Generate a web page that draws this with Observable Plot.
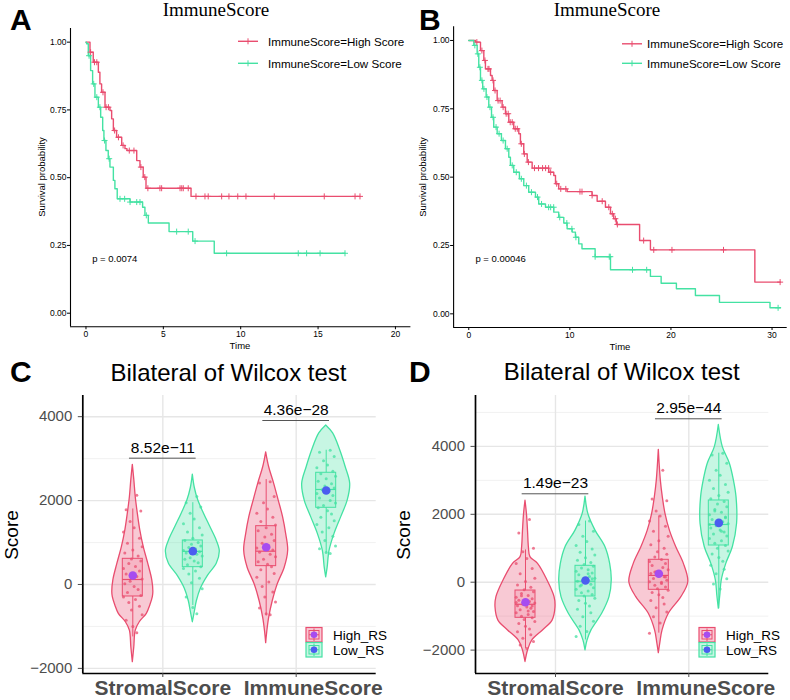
<!DOCTYPE html>
<html><head><meta charset="utf-8">
<script src="https://cdn.jsdelivr.net/npm/d3@7"></script>
<script src="https://cdn.jsdelivr.net/npm/@observablehq/plot@0.6"></script>
<style>
body{margin:0;background:#fff;}
#root{position:relative;width:790px;height:700px;overflow:hidden;background:#fff;font-family:"Liberation Sans",Arial,sans-serif;}
</style></head><body><div id="root"></div>
<script>
const RED = "#E94D6F", GREEN = "#44E2A3", PURPLE = "#A64CF0", BLUE = "#4B5DF0";
const FONT = "Liberation Sans, Arial, sans-serif";

// ---------- Kaplan-Meier data ----------
const kmGroups = ["ImmuneScore=High Score", "ImmuneScore=Low Score"];
const kmA_highTime = [0, 0.26, 0.47, 0.8, 0.9, 1.01, 1.23, 1.55, 1.66, 1.77, 1.98, 2.31, 2.52, 2.65, 3.28, 3.49, 3.7, 3.88, 6.79, 17.71];
const kmA_highSurv = [1, 0.963, 0.926, 0.889, 0.846, 0.815, 0.76, 0.748, 0.717, 0.674, 0.649, 0.619, 0.607, 0.6, 0.563, 0.539, 0.502, 0.461, 0.431, 0.431];
const kmA_lowTime = [0, 0.04, 0.15, 0.3, 0.43, 0.58, 0.8, 0.95, 1.08, 1.16, 1.29, 1.44, 1.55, 1.77, 1.87, 2.02, 2.85, 3.66, 3.81, 4.03, 5.37, 6.9, 8.29, 16.74];
const kmA_lowSurv = [1, 0.994, 0.95, 0.895, 0.846, 0.797, 0.76, 0.723, 0.674, 0.637, 0.6, 0.57, 0.539, 0.49, 0.459, 0.422, 0.41, 0.391, 0.361, 0.333, 0.301, 0.266, 0.221, 0.221];
const kmA_highCensor = [0.3, 0.55, 0.7, 1.1, 1.3, 1.45, 1.85, 2.1, 2.4, 2.8, 3.1, 3.55, 3.8, 4.0, 4.78, 4.89, 6.08, 6.19, 6.29, 6.61, 7.11, 7.69, 7.9, 8.77, 9.24, 9.81, 10.34, 12.17, 15.4, 17.39, 17.71];
const kmA_lowCensor = [0.2, 0.5, 0.7, 0.9, 1.2, 1.5, 2.2, 2.5, 2.85, 3.28, 3.49, 3.9, 5.86, 6.61, 7.05, 9.09, 13.72, 14.26, 15.13, 16.74];
const kmA_pvalue = [{t: 0.4, s: 0.2, label: "p = 0.0074"}];

const kmB_highTime = [0, 0.66, 1.16, 1.49, 1.65, 2.15, 2.31, 2.47, 2.81, 3.3, 3.63, 3.96, 4.45, 4.95, 5.11, 5.44, 5.78, 6.27, 7.91, 8.41, 8.58, 8.9, 9.73, 12.2, 12.7, 13.52, 14.02, 14.34, 14.6, 16.9, 17.97, 28.3, 30.83];
const kmB_highSurv = [1, 0.994, 0.963, 0.927, 0.896, 0.872, 0.854, 0.817, 0.78, 0.756, 0.732, 0.701, 0.677, 0.659, 0.622, 0.585, 0.555, 0.533, 0.518, 0.506, 0.476, 0.457, 0.447, 0.433, 0.412, 0.39, 0.366, 0.348, 0.327, 0.268, 0.234, 0.116, 0.116];
const kmB_lowTime = [0, 0.5, 0.83, 0.99, 1.16, 1.38, 1.72, 1.98, 2.25, 2.47, 2.81, 3.23, 3.63, 3.96, 4.12, 4.45, 5.01, 5.44, 5.93, 6.6, 6.92, 7.59, 8.41, 8.9, 9.4, 9.73, 10.23, 10.55, 10.88, 11.2, 12.5, 14.02, 17.97, 19.03, 20.54, 22.42, 24.8, 29.8, 30.83];
const kmB_lowSurv = [1, 0.982, 0.951, 0.902, 0.854, 0.823, 0.793, 0.756, 0.719, 0.683, 0.659, 0.634, 0.604, 0.573, 0.543, 0.518, 0.494, 0.469, 0.445, 0.427, 0.402, 0.39, 0.372, 0.353, 0.332, 0.311, 0.299, 0.28, 0.256, 0.238, 0.209, 0.161, 0.137, 0.112, 0.092, 0.067, 0.042, 0.022, 0.022];
const kmB_highCensor = [0.8, 1.3, 1.6, 1.9, 2.0, 2.4, 2.6, 2.9, 3.1, 3.4, 3.7, 3.9, 4.1, 4.3, 4.6, 4.8, 5.2, 5.5, 5.9, 6.5, 6.9, 7.3, 7.6, 7.9, 8.1, 8.7, 9.1, 9.6, 11.0, 11.2, 12.2, 13.2, 13.85, 14.2, 14.5, 14.7, 17.3, 18.3, 20.1, 25.2, 30.8];
const kmB_lowCensor = [0.6, 0.9, 1.1, 1.3, 1.5, 1.8, 2.1, 2.4, 2.7, 3.0, 3.4, 3.8, 4.3, 4.7, 5.2, 5.7, 6.2, 6.8, 7.2, 7.9, 8.1, 8.4, 9.0, 9.7, 10.2, 10.6, 12.5, 13.9, 14.0, 16.2, 17.6, 30.6];
const kmB_pvalue = [{t: 0.66, s: 0.2, label: "p = 0.00046"}];

// ---------- Violin data ----------
const scoreNames = ["StromalScore", "ImmuneScore"];
const riskNames = ["High_RS", "Low_RS"];
// violin profiles: [score, half-width in category units]
const violinC_StromalHigh = [[2850,0],[2500,0.011],[2080,0.022],[1700,0.037],[1290,0.056],[890,0.082],[490,0.116],[100,0.146],[-180,0.154],[-300,0.15],[-500,0.131],[-700,0.105],[-900,0.052],[-1100,0.022],[-1500,0.011],[-1850,0]];
const violinC_StromalLow = [[2620,0],[2300,0.015],[2000,0.041],[1700,0.082],[1400,0.127],[1100,0.172],[800,0.202],[500,0.18],[200,0.112],[-100,0.06],[-400,0.03],[-650,0.015],[-900,0]];
const violinC_ImmuneHigh = [[3150,0],[2800,0.022],[2400,0.06],[2000,0.094],[1600,0.127],[1200,0.15],[810,0.165],[400,0.139],[0,0.086],[-400,0.049],[-800,0.022],[-1150,0.0075],[-1400,0]];
const violinC_ImmuneLow = [[3790,0],[3600,0.052],[3200,0.105],[2800,0.146],[2400,0.18],[2000,0.161],[1600,0.112],[1200,0.062],[800,0.025],[400,0.011],[170,0]];
const violinD_StromalHigh = [[2400,0],[2000,0.011],[1500,0.019],[1000,0.026],[740,0.037],[540,0.094],[50,0.165],[-440,0.218],[-740,0.225],[-1130,0.203],[-1420,0.131],[-1720,0.05],[-2010,0.019],[-2350,0]];
const violinD_StromalLow = [[2520,0],[2000,0.022],[1520,0.075],[1030,0.15],[540,0.185],[50,0.197],[-440,0.18],[-930,0.125],[-1420,0.045],[-1720,0.015],[-2010,0]];
const violinD_ImmuneHigh = [[3900,0],[3000,0.015],[2500,0.03],[2015,0.05],[1520,0.083],[1030,0.131],[540,0.188],[0,0.221],[-440,0.169],[-930,0.075],[-1420,0.028],[-1800,0.011],[-2090,0]];
const violinD_ImmuneLow = [[4630,0],[3980,0.03],[3490,0.083],[3000,0.113],[2500,0.133],[1720,0.137],[1030,0.105],[540,0.056],[50,0.022],[-400,0.011],[-780,0]];
// box stats: [q1, median, q3, whisker low, whisker high, mean]
const boxC_StromalHigh = [-286, 119, 612, -1250, 1800, 215];
const boxC_StromalLow = [413, 790, 1049, -500, 1950, 794];
const boxC_ImmuneHigh = [437, 794, 1390, -750, 2500, 889];
const boxC_ImmuneLow = [1828, 2265, 2663, 750, 3200, 2241];
const boxD_StromalHigh = [-1049, -650, -245, -1950, 950, -589];
const boxD_StromalLow = [-421, 30, 483, -1700, 1800, 50];
const boxD_ImmuneHigh = [-224, 200, 660, -1500, 1950, 247];
const boxD_ImmuneLow = [1081, 1700, 2407, -780, 3800, 1747];
// jittered sample points
const ptsC_StromalHigh = [2130,1780,1750,1500,1350,1250,1100,980,900,820,750,680,610,560,500,430,380,320,250,190,130,80,20,-50,-120,-190,-260,-300,-360,-430,-520,-610,-720,-850,-1000,-1150];
const ptsC_StromalLow = [2100,1950,1850,1700,1560,1450,1350,1250,1180,1100,1050,1000,960,920,880,850,810,780,750,720,680,640,600,560,520,470,420,380,320,250,150,40,-100,-300,-550,-700];
const ptsC_ImmuneHigh = [2450,2420,2100,1950,1800,1700,1600,1500,1420,1350,1280,1200,1130,1050,980,920,870,820,770,720,660,600,540,480,420,350,260,170,60,-50,-180,-300,-420,-560,-700,-720];
const ptsC_ImmuneLow = [3200,3150,3050,2950,2850,2780,2700,2640,2580,2520,2460,2400,2350,2300,2260,2220,2170,2120,2060,2000,1940,1880,1830,1760,1680,1600,1520,1430,1350,1250,1150,1050,920,850,760,740];
const ptsD_StromalHigh = [1850,1450,1000,900,700,550,400,250,120,20,-80,-150,-220,-280,-330,-390,-440,-490,-530,-570,-610,-650,-690,-730,-770,-810,-860,-900,-950,-1000,-1050,-1100,-1160,-1220,-1300,-1380,-1460,-1550,-1650,-1750,-1850,-1950,-600,-700,-400,-850];
const ptsD_StromalLow = [1800,1700,1500,1350,1200,1080,980,880,800,720,650,580,520,470,420,370,320,270,220,170,120,70,30,-10,-60,-110,-160,-210,-260,-310,-360,-410,-470,-540,-620,-700,-800,-900,-1020,-1150,-1300,-1450,-1600,100,-80,250];
const ptsD_ImmuneHigh = [3300,2450,2400,2100,1950,1800,1650,1500,1350,1220,1100,1000,900,820,740,670,610,550,490,430,370,310,260,210,160,110,60,10,-40,-90,-140,-190,-240,-300,-370,-450,-540,-640,-750,-880,-1020,-1200,-1500,150,300,0];
const ptsD_ImmuneLow = [3800,3750,3500,3300,3150,3000,2880,2760,2650,2550,2460,2380,2300,2220,2140,2060,1990,1920,1850,1780,1720,1660,1600,1540,1480,1420,1360,1290,1220,1150,1080,1000,920,830,730,620,500,380,250,100,-50,-200,1700,1900,2100,1500];
const jitterOffsets = [0.03,-0.05,0.06,-0.02,0.01,-0.07,0.05,-0.04,0.07,0.00,-0.06,0.04,-0.01,0.06,-0.03,0.02,-0.07,0.05,-0.05,0.03,0.07,-0.02,-0.06,0.01,0.04,-0.04,0.06,-0.07,0.02,-0.03,0.05,-0.01,0.07,-0.05,0.00,0.03,-0.06,0.04,-0.02,0.06,-0.04,0.01,-0.07,0.05,-0.03,0.02];
// significance labels
const compC_labels = ["8.52e\u221211", "4.36e\u221228"];
const compC_y = [3011, 3909];
const compD_labels = ["1.49e\u221223", "2.95e\u221244"];
const compD_y = [2604, 4813];

// ---------- helpers ----------
const root = document.getElementById("root");
function place(el, left, top) {
  const d = document.createElement("div");
  d.style.position = "absolute"; d.style.left = left + "px"; d.style.top = top + "px";
  d.appendChild(el); root.appendChild(d);
}
function steps(times, survs, group) { return times.map((t, i) => ({t, s: survs[i], group})); }
function survAt(times, survs, t) { let s = survs[0]; for (let i = 0; i < times.length; i++) if (times[i] <= t) s = survs[i]; return s; }
function censors(ct, times, survs, group) { return ct.map(t => ({t, s: survAt(times, survs, t), group})); }

function kmPlot(o) {
  return Plot.plot({
    width: o.width, height: 352, marginLeft: o.ml, marginRight: o.mr, marginTop: o.mt, marginBottom: o.mb,
    x: {domain: o.xdom}, y: {domain: [-0.05, 1.05]},
    color: {domain: kmGroups, range: [RED, GREEN]},
    style: {background: "transparent", fontFamily: FONT, fontSize: "8.5px", color: "black", overflow: "visible"},
    marks: [
      Plot.ruleX([o.xdom[0]], {stroke: "black", strokeWidth: 1.1}),
      Plot.ruleY([-0.05], {stroke: "black", strokeWidth: 1.1}),
      Plot.axisX({ticks: o.xticks, tickSize: 3, tickPadding: 1, label: null, fontSize: 8.5}),
      Plot.axisY({ticks: [0, 0.25, 0.5, 0.75, 1], tickFormat: d3.format(".2f"), tickSize: 3, tickPadding: 1, label: null, fontSize: 8.5}),
      Plot.line(o.curves, {x: "t", y: "s", z: "group", stroke: "group", curve: "step-after", strokeWidth: 1.4}),
      Plot.dot(o.cens, {x: "t", y: "s", stroke: "group", symbol: "plus", r: 2.1, strokeWidth: 1}),
      Plot.text(o.pv, {x: "t", y: "s", text: "label", textAnchor: "start", fontSize: 9.5, fill: "black"})
    ]
  });
}

function violinPlot(o) {
  const dodge = [-0.225, 0.225];
  const violinRows = [], boxRows = [], pointRows = [];
  o.groups.forEach((g, gi) => {
    const c = g.score + 1 + dodge[g.risk];
    const risk = riskNames[g.risk];
    g.profile.forEach(([v, w]) => violinRows.push({key: gi, v, x1: c - w, x2: c + w, risk}));
    const [q1, med, q3, wlo, whi, mean] = g.box;
    boxRows.push({c, x1: c - 0.075, x2: c + 0.075, q1, med, q3, wlo, whi, mean, risk});
    g.pts.forEach((v, i) => pointRows.push({x: c + jitterOffsets[i % jitterOffsets.length], v, risk}));
  });
  const comps = o.compLabels.map((label, i) => ({label, y: o.compY[i], x1: i + 1 - 0.25, x2: i + 1 + 0.25}));
  const labels = scoreNames.map((n, i) => ({x: i + 1, label: n}));
  return Plot.plot({
    width: o.width, height: 370, marginLeft: o.ml, marginRight: o.mr, marginTop: 65, marginBottom: 27,
    x: {domain: [0.4, 2.6]}, y: {domain: o.ydom},
    color: {domain: riskNames, range: [RED, GREEN]},
    style: {background: "transparent", fontFamily: FONT, overflow: "visible"},
    marks: [
      Plot.ruleY(o.minor, {stroke: "#EFEFEF", strokeWidth: 0.9}),
      Plot.ruleY([-2000, 0, 2000, 4000], {stroke: "#E6E6E6", strokeWidth: 1.4}),
      Plot.ruleX([1, 2], {stroke: "#E6E6E6", strokeWidth: 1.4}),
      Plot.areaX(violinRows, {y: "v", x1: "x1", x2: "x2", z: "key", fill: "risk", fillOpacity: 0.3, stroke: "risk", strokeWidth: 1.3, curve: "catmull-rom"}),
      Plot.ruleX(boxRows, {x: "c", y1: "wlo", y2: "q1", stroke: "risk", strokeWidth: 1}),
      Plot.ruleX(boxRows, {x: "c", y1: "q3", y2: "whi", stroke: "risk", strokeWidth: 1}),
      Plot.rect(boxRows, {x1: "x1", x2: "x2", y1: "q1", y2: "q3", fill: "risk", fillOpacity: 0.15, stroke: "risk", strokeWidth: 1}),
      Plot.ruleY(boxRows, {y: "med", x1: "x1", x2: "x2", stroke: "risk", strokeWidth: 1.2}),
      Plot.dot(pointRows, {x: "x", y: "v", fill: "risk", r: 1.5, fillOpacity: 0.75}),
      Plot.dot(boxRows, {filter: d => d.risk === "High_RS", x: "c", y: "mean", fill: PURPLE, r: 4.3}),
      Plot.dot(boxRows, {filter: d => d.risk === "Low_RS", x: "c", y: "mean", fill: BLUE, r: 4.3}),
      Plot.ruleX([0.4], {stroke: "black", strokeWidth: 1.7}),
      Plot.ruleY([o.ydom[0]], {stroke: "black", strokeWidth: 1.7}),
      Plot.axisY({ticks: [-2000, 0, 2000, 4000], tickFormat: d3.format("d"), tickSize: 4.5, tickPadding: 6, fontSize: 15, color: "#4D4D4D", label: null}),
      Plot.axisX({ticks: [1, 2], tickFormat: () => "", tickSize: 4, color: "#4D4D4D", label: null}),
      Plot.text(labels, {filter: d => d.x === 1, x: "x", frameAnchor: "bottom", dy: 15, lineAnchor: "middle", text: "label", fontSize: 21, fontWeight: "bold", fill: "#4D4D4D"}),
      Plot.text(labels, {filter: d => d.x === 2, x: "x", frameAnchor: "bottom", dx: 17, dy: 15, lineAnchor: "middle", text: "label", fontSize: 21, fontWeight: "bold", fill: "#4D4D4D"}),
      Plot.ruleY(comps, {y: "y", x1: "x1", x2: "x2", stroke: "#555", strokeWidth: 1}),
      Plot.text(comps, {x: d => (d.x1 + d.x2) / 2, y: "y", dy: -10.5, lineAnchor: "middle", text: "label", fontSize: 15.5, fill: "black"})
    ]
  });
}

// ---------- panels ----------
place(kmPlot({
  width: 412, ml: 70, mr: 1.6, mt: 28.1, mb: 25.75, xdom: [-1, 21], xticks: [0, 5, 10, 15, 20],
  curves: [...steps(kmA_highTime, kmA_highSurv, kmGroups[0]), ...steps(kmA_lowTime, kmA_lowSurv, kmGroups[1])],
  cens: [...censors(kmA_highCensor, kmA_highTime, kmA_highSurv, kmGroups[0]), ...censors(kmA_lowCensor, kmA_lowTime, kmA_lowSurv, kmGroups[1])],
  pv: kmA_pvalue
}), 0, 0);
place(kmPlot({
  width: 395, ml: 58.1, mr: 3.3, mt: 26.3, mb: 25, xdom: [-1.5, 31.5], xticks: [0, 10, 20, 30],
  curves: [...steps(kmB_highTime, kmB_highSurv, kmGroups[0]), ...steps(kmB_lowTime, kmB_lowSurv, kmGroups[1])],
  cens: [...censors(kmB_highCensor, kmB_highTime, kmB_highSurv, kmGroups[0]), ...censors(kmB_lowCensor, kmB_lowTime, kmB_lowSurv, kmGroups[1])],
  pv: kmB_pvalue
}), 395, 0);
place(violinPlot({
  width: 400, ml: 82.3, mr: 24.3, ydom: [-2122, 4505], minor: [-1000, 1000, 3000],
  groups: [
    {score: 0, risk: 0, profile: violinC_StromalHigh, box: boxC_StromalHigh, pts: ptsC_StromalHigh},
    {score: 0, risk: 1, profile: violinC_StromalLow, box: boxC_StromalLow, pts: ptsC_StromalLow},
    {score: 1, risk: 0, profile: violinC_ImmuneHigh, box: boxC_ImmuneHigh, pts: ptsC_ImmuneHigh},
    {score: 1, risk: 1, profile: violinC_ImmuneLow, box: boxC_ImmuneLow, pts: ptsC_ImmuneLow}
  ],
  compLabels: compC_labels, compY: compC_y
}), 0, 330);
place(violinPlot({
  width: 395, ml: 80, mr: 21.7, ydom: [-2689, 5499], minor: [-1000, 1000, 3000, 5000],
  groups: [
    {score: 0, risk: 0, profile: violinD_StromalHigh, box: boxD_StromalHigh, pts: ptsD_StromalHigh},
    {score: 0, risk: 1, profile: violinD_StromalLow, box: boxD_StromalLow, pts: ptsD_StromalLow},
    {score: 1, risk: 0, profile: violinD_ImmuneHigh, box: boxD_ImmuneHigh, pts: ptsD_ImmuneHigh},
    {score: 1, risk: 1, profile: violinD_ImmuneLow, box: boxD_ImmuneLow, pts: ptsD_ImmuneLow}
  ],
  compLabels: compD_labels, compY: compD_y
}), 395, 330);

// ---------- titles, labels, legends ----------
function kmLegend(x0, textGap, yHigh, yLow) {
  return [[yHigh, RED, kmGroups[0]], [yLow, GREEN, kmGroups[1]]].map(([y, c, t]) =>
    `<line x1="${x0}" x2="${x0 + 20}" y1="${y}" y2="${y}" stroke="${c}" stroke-width="1.4"/>
     <line x1="${x0 + 10}" x2="${x0 + 10}" y1="${y - 3}" y2="${y + 3}" stroke="${c}" stroke-width="1"/>
     <text x="${x0 + 20 + textGap}" y="${y}" dominant-baseline="central" font-size="11.6">${t}</text>`).join("");
}
function boxLegend(x0, y0) {
  return [[0, RED, PURPLE, riskNames[0]], [1, GREEN, BLUE, riskNames[1]]].map(([i, c, m, t]) => {
    const y = y0 + i * 15;
    return `<rect x="${x0}" y="${y}" width="16" height="14.5" fill="${c}" fill-opacity="0.3" stroke="${c}" stroke-width="1.2"/>
      <line x1="${x0 + 8}" x2="${x0 + 8}" y1="${y + 1}" y2="${y + 13.5}" stroke="${c}" stroke-width="1"/>
      <rect x="${x0 + 3}" y="${y + 3}" width="10" height="8.5" fill="none" stroke="${c}" stroke-width="1"/>
      <line x1="${x0 + 3}" x2="${x0 + 13}" y1="${y + 7.25}" y2="${y + 7.25}" stroke="${c}" stroke-width="1"/>
      <circle cx="${x0 + 8}" cy="${y + 7.25}" r="3.3" fill="${m}"/>
      <text x="${x0 + 27}" y="${y + 7.5}" dominant-baseline="central" font-size="13.5" fill="black">${t}</text>`;
  }).join("");
}
const overlay = `<svg width="790" height="700" xmlns="http://www.w3.org/2000/svg" style="position:absolute;left:0;top:0;pointer-events:none" font-family="${FONT}">
  <g font-weight="bold" font-size="30" fill="black">
    <text x="10" y="30">A</text><text x="419" y="30">B</text>
    <text x="10" y="382">C</text><text x="409" y="382">D</text>
  </g>
  <g font-family="Liberation Serif, Times New Roman, serif" font-size="19" text-anchor="middle" fill="black">
    <text x="216" y="16">ImmuneScore</text><text x="607" y="16">ImmuneScore</text>
  </g>
  <g font-size="9.5" text-anchor="middle" fill="black">
    <text transform="translate(41,177) rotate(-90)" dominant-baseline="central">Survival probability</text>
    <text transform="translate(422.5,177) rotate(-90)" dominant-baseline="central">Survival probability</text>
    <text x="240" y="345.5" dominant-baseline="central">Time</text>
    <text x="620" y="346.5" dominant-baseline="central">Time</text>
  </g>
  ${kmLegend(238, 10, 41.3, 63.3)}
  ${kmLegend(622, 5, 43.8, 63.3)}
  <g font-size="24" text-anchor="middle" fill="black">
    <text x="228.5" y="380.5">Bilateral of Wilcox test</text>
    <text x="621.7" y="380">Bilateral of Wilcox test</text>
  </g>
  <g font-size="19" text-anchor="middle" fill="black">
    <text transform="translate(11,535) rotate(-90)" dominant-baseline="central">Score</text>
    <text transform="translate(403,535) rotate(-90)" dominant-baseline="central">Score</text>
  </g>
  ${boxLegend(306, 627.5)}
  ${boxLegend(699, 627.5)}
</svg>`;
root.insertAdjacentHTML("beforeend", overlay);
</script></body></html>
